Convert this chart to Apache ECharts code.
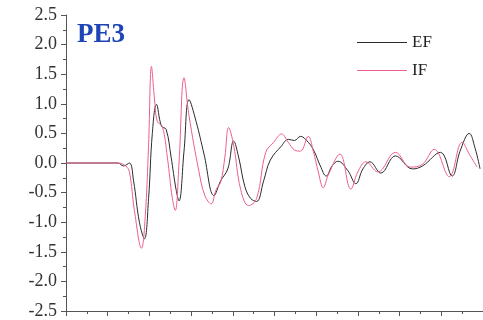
<!DOCTYPE html>
<html>
<head>
<meta charset="utf-8">
<script src="https://cdn.jsdelivr.net/npm/echarts@6/dist/echarts.min.js"></script>
<style>
  html, body { margin: 0; padding: 0; background: #fff; }
  #chart { width: 483px; height: 320px; }
</style>
</head>
<body>
<div id="chart"></div>
<script>
// [x, value], x in axis units (0..10)
const efData = [
  [0, 0], [1.24, 0], [1.38, -0.05], [1.52, 0.0], [1.62, -0.3], [1.76, -1.0],
  [1.88, -1.28], [1.98, -0.6], [2.07, 0.5], [2.17, 0.99], [2.29, 0.62],
  [2.40, 0.57], [2.52, 0.1], [2.64, -0.45], [2.71, -0.64], [2.83, 0.2],
  [2.95, 1.07], [3.12, 0.7], [3.31, 0.15], [3.55, -0.55], [3.71, -0.3],
  [3.88, -0.1], [4.02, 0.37], [4.14, 0.1], [4.29, -0.4], [4.43, -0.6],
  [4.57, -0.65], [4.74, -0.3], [4.9, 0.05], [5.17, 0.29], [5.33, 0.40],
  [5.48, 0.38], [5.62, 0.45], [5.81, 0.35], [5.95, 0.2], [6.1, -0.05],
  [6.24, -0.22], [6.38, -0.05], [6.52, 0.03], [6.76, -0.13], [6.95, -0.35],
  [7.12, -0.1], [7.29, 0.02], [7.55, -0.17], [7.9, 0.12], [8.31, -0.1],
  [8.55, -0.05], [8.98, 0.18], [9.26, -0.22], [9.45, 0.2], [9.67, 0.5],
  [9.81, 0.25], [9.93, -0.1]
];
const ifData = [
  [0, 0], [1.24, 0], [1.43, -0.05], [1.52, -0.15], [1.64, -0.8], [1.81, -1.44],
  [1.90, -0.9], [1.98, 0.3], [2.05, 1.63], [2.12, 1.1], [2.19, 0.7],
  [2.31, 0.62], [2.43, 0.1], [2.55, -0.6], [2.62, -0.8], [2.71, 0.0],
  [2.83, 1.44], [2.95, 0.8], [3.19, -0.15], [3.33, -0.55], [3.48, -0.69],
  [3.6, -0.45], [3.71, -0.32], [3.81, 0.1], [3.9, 0.6], [4.02, 0.3],
  [4.19, -0.45], [4.38, -0.72], [4.57, -0.6], [4.79, 0.18], [4.98, 0.35],
  [5.17, 0.49], [5.33, 0.35], [5.48, 0.22], [5.62, 0.2], [5.81, 0.45],
  [5.93, 0.2], [6.05, -0.15], [6.17, -0.42], [6.29, -0.2], [6.57, 0.15],
  [6.83, -0.44], [7.0, -0.15], [7.19, 0.02], [7.48, -0.15], [7.9, 0.18],
  [8.26, -0.07], [8.55, -0.02], [8.83, 0.23], [9.19, -0.23], [9.5, 0.35],
  [9.67, 0.15], [9.86, -0.07]
];
const seriesNames = ['EF', 'IF'];
const yTicks = [-2.5, -2.0, -1.5, -1.0, -0.5, 0.0, 0.5, 1.0, 1.5, 2.0, 2.5];

const serif = '"Liberation Serif", "DejaVu Serif", serif';
const axisColor = '#555';

const chart = echarts.init(document.getElementById('chart'));

const option = {
  animation: false,
  title: {
    text: 'PE3',
    left: 72,
    top: 17,
    textStyle: { fontFamily: serif, fontWeight: 'bold', fontSize: 27, color: '#1d45b5' }
  },
  legend: {
    orient: 'vertical',
    left: 352,
    top: 29,
    itemWidth: 50,
    itemHeight: 1,
    itemGap: 11,
    icon: 'rect',
    textStyle: { fontFamily: serif, fontSize: 17, color: '#222' },
    data: seriesNames
  },
  grid: { left: 66, right: -3, top: 15, bottom: 7 },
  xAxis: {
    type: 'value',
    min: 0,
    max: 10,
    interval: 1,
    axisLine: { onZero: false, lineStyle: { color: axisColor, width: 1 } },
    axisTick: { inside: false, length: 5, lineStyle: { color: axisColor } },
    minorTick: { show: true, splitNumber: 2, length: 3, lineStyle: { color: axisColor } },
    axisLabel: { show: false },
    splitLine: { show: false }
  },
  yAxis: {
    type: 'value',
    min: yTicks[0],
    max: yTicks[yTicks.length - 1],
    interval: 0.5,
    axisLine: { show: true, onZero: false, lineStyle: { color: axisColor, width: 1 } },
    axisTick: { show: true, inside: false, length: 5, lineStyle: { color: axisColor } },
    minorTick: { show: true, splitNumber: 2, length: 3, lineStyle: { color: axisColor } },
    axisLabel: {
      margin: 9,
      fontFamily: serif,
      fontSize: 18,
      color: '#333',
      formatter: v => v.toFixed(1)
    },
    splitLine: { show: false }
  },
  series: [
    {
      name: seriesNames[0],
      type: 'line',
      data: efData,
      smooth: 0.4,
      symbol: 'none',
      lineStyle: { color: '#2a2a2a', width: 1 },
      itemStyle: { color: '#2a2a2a' }
    },
    {
      name: seriesNames[1],
      type: 'line',
      data: ifData,
      smooth: 0.4,
      symbol: 'none',
      lineStyle: { color: '#eb5f8e', width: 1 },
      itemStyle: { color: '#eb5f8e' }
    }
  ]
};

chart.setOption(option);
</script>
</body>
</html>
